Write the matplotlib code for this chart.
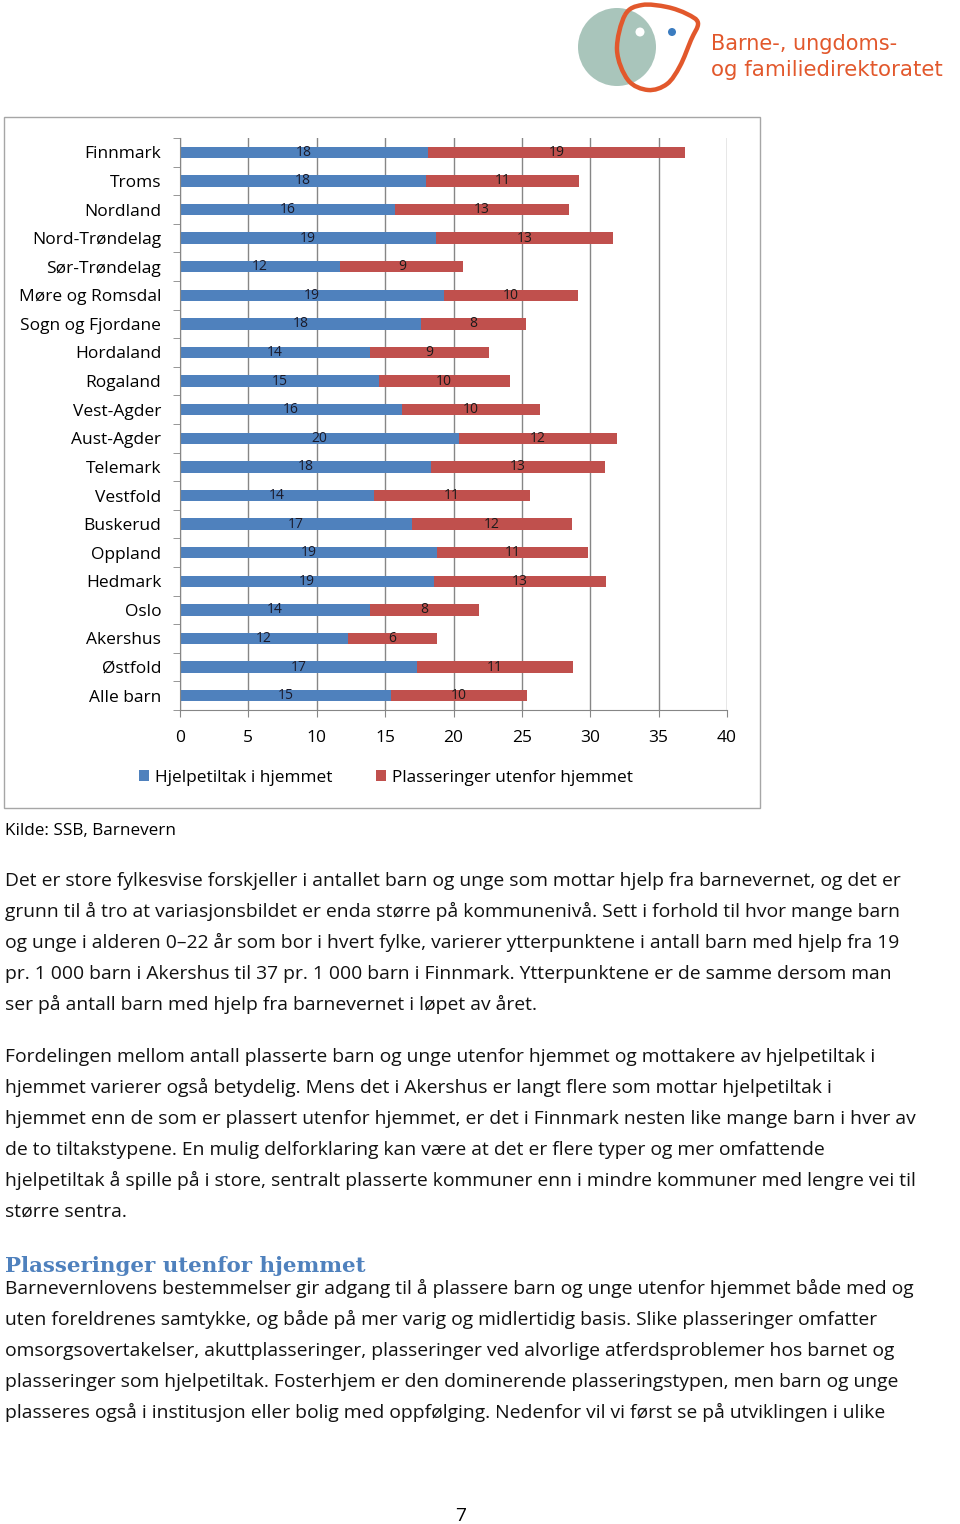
import matplotlib
matplotlib.use('Agg')
import matplotlib.pyplot as plt
import numpy as np
from matplotlib.patches import Rectangle, Circle, PathPatch
from matplotlib.path import Path

plt.rcParams['font.family'] = ['Open Sans', 'DejaVu Sans']

# data (per 1 000 children)
fylker = ['Finnmark', 'Troms', 'Nordland', 'Nord-Trøndelag', 'Sør-Trøndelag',
          'Møre og Romsdal', 'Sogn og Fjordane', 'Hordaland', 'Rogaland',
          'Vest-Agder', 'Aust-Agder', 'Telemark', 'Vestfold', 'Buskerud',
          'Oppland', 'Hedmark', 'Oslo', 'Akershus', 'Østfold', 'Alle barn']
hjelpetiltak = [18.13, 17.98, 15.72, 18.71, 11.73, 19.32, 17.6, 13.89, 14.55, 16.2,
                20.39, 18.37, 14.18, 16.93, 18.78, 18.54, 13.89, 12.28, 17.32, 15.45]
plasseringer = [18.81, 11.19, 12.76, 12.96, 9.0, 9.8, 7.7, 8.72, 9.55, 10.12,
                11.55, 12.72, 11.43, 11.75, 11.09, 12.6, 7.94, 6.48, 11.41, 9.92]
serier = ['Hjelpetiltak i hjemmet', 'Plasseringer utenfor hjemmet']
x_ticks = [0, 5, 10, 15, 20, 25, 30, 35, 40]

avsnitt1 = [
    'Det er store fylkesvise forskjeller i antallet barn og unge som mottar hjelp fra barnevernet, og det er',
    'grunn til å tro at variasjonsbildet er enda større på kommunenivå. Sett i forhold til hvor mange barn',
    'og unge i alderen 0–22 år som bor i hvert fylke, varierer ytterpunktene i antall barn med hjelp fra 19',
    'pr. 1 000 barn i Akershus til 37 pr. 1 000 barn i Finnmark. Ytterpunktene er de samme dersom man',
    'ser på antall barn med hjelp fra barnevernet i løpet av året.',
]
avsnitt2 = [
    'Fordelingen mellom antall plasserte barn og unge utenfor hjemmet og mottakere av hjelpetiltak i',
    'hjemmet varierer også betydelig. Mens det i Akershus er langt flere som mottar hjelpetiltak i',
    'hjemmet enn de som er plassert utenfor hjemmet, er det i Finnmark nesten like mange barn i hver av',
    'de to tiltakstypene. En mulig delforklaring kan være at det er flere typer og mer omfattende',
    'hjelpetiltak å spille på i store, sentralt plasserte kommuner enn i mindre kommuner med lengre vei til',
    'større sentra.',
]
overskrift = 'Plasseringer utenfor hjemmet'
avsnitt3 = [
    'Barnevernlovens bestemmelser gir adgang til å plassere barn og unge utenfor hjemmet både med og',
    'uten foreldrenes samtykke, og både på mer varig og midlertidig basis. Slike plasseringer omfatter',
    'omsorgsovertakelser, akuttplasseringer, plasseringer ved alvorlige atferdsproblemer hos barnet og',
    'plasseringer som hjelpetiltak. Fosterhjem er den dominerende plasseringstypen, men barn og unge',
    'plasseres også i institusjon eller bolig med oppfølging. Nedenfor vil vi først se på utviklingen i ulike',
]

BLUE = '#4F81BD'
RED = '#C0504D'
GRID = '#868686'
ORANGE = '#E2582C'
BODY = 13.9

fig = plt.figure(figsize=(9.6, 15.24), dpi=100)

# page layer in pixel coordinates
page = fig.add_axes([0, 0, 1, 1])
page.set_xlim(0, 960)
page.set_ylim(1524, 0)
page.axis('off')

# logo
page.add_patch(Circle((617, 47), 39, color='#A9C5BB', lw=0))
pts = np.array([(625, 15), (617, 50), (628, 80), (648, 90), (667, 84), (680, 66),
                (691, 40), (698, 23), (687, 14), (667, 7), (642, 5)])
n = len(pts)
verts = [pts[0]]
codes = [Path.MOVETO]
for i in range(n):
    p0, p1, p2, p3 = pts[i - 1], pts[i], pts[(i + 1) % n], pts[(i + 2) % n]
    c1 = p1 + (p2 - p0) / 6
    c2 = p2 - (p3 - p1) / 6
    verts += [c1, c2, p2]
    codes += [Path.CURVE4] * 3
page.add_patch(PathPatch(Path(verts, codes), fill=False, edgecolor=ORANGE, lw=3.2))
page.add_patch(Circle((640, 32), 4.5, color='white', lw=0))
page.add_patch(Circle((672, 32), 4, color='#3B7CC0', lw=0))
page.text(711, 50, 'Barne-, ungdoms-', color=ORANGE, fontsize=15,
          family=['DejaVu Sans'], va='baseline')
page.text(711, 76, 'og familiedirektoratet', color=ORANGE, fontsize=15.4,
          family=['DejaVu Sans'], va='baseline')

# chart frame
page.add_patch(Rectangle((4, 117), 756, 691, fill=False, edgecolor='#A6A6A6', lw=1))

ax = fig.add_axes([180 / 960, 1 - 710 / 1524, 547 / 960, 572 / 1524])
ax.set_facecolor('none')
y = np.arange(len(fylker))
b1 = ax.barh(y, hjelpetiltak, height=0.4, color=BLUE, label=serier[0], zorder=2)
b2 = ax.barh(y, plasseringer, left=hjelpetiltak, height=0.4, color=RED,
             label=serier[1], zorder=2)
ax.bar_label(b1, labels=['%.0f' % v for v in hjelpetiltak], label_type='center',
             fontsize=10, color='#1A1A2A')
ax.bar_label(b2, labels=['%.0f' % v for v in plasseringer], label_type='center',
             fontsize=10, color='#1A1A1A')

ax.set_xlim(0, 40)
ax.set_ylim(len(fylker) - 0.5, -0.5)
ax.set_xticks(x_ticks)
ax.set_yticks(y)
ax.set_yticklabels(fylker)
ax.set_yticks(np.arange(-0.5, len(fylker), 1), minor=True)
ax.tick_params(axis='y', which='major', length=0, pad=13.5, labelsize=12.55)
ax.tick_params(axis='y', which='minor', length=5, color=GRID, direction='out')
ax.tick_params(axis='x', length=5, color=GRID, pad=9.5, labelsize=12.55)
ax.xaxis.grid(True, color=GRID, lw=1, zorder=0)
ax.set_axisbelow(True)
for s in ['top', 'right']:
    ax.spines[s].set_visible(False)
for s in ['left', 'bottom']:
    ax.spines[s].set_color(GRID)

fig.legend(handles=[b1, b2], loc='center', bbox_to_anchor=(386 / 960, 1 - 778 / 1524),
           ncol=2, frameon=False, fontsize=12.4, handlelength=0.6, handleheight=0.6,
           handletextpad=0.35, columnspacing=2.5)

page.text(5, 835, 'Kilde: SSB, Barnevern', fontsize=12.3, va='baseline')

for i, line in enumerate(avsnitt1):
    page.text(5, 886 + 31 * i, line, fontsize=BODY, va='baseline', color='#111111')
for i, line in enumerate(avsnitt2):
    page.text(5, 1062 + 31 * i, line, fontsize=BODY, va='baseline', color='#111111')
page.text(5, 1272, overskrift, fontsize=15.4, weight='bold', color=BLUE,
          family=['DejaVu Serif'], va='baseline')
for i, line in enumerate(avsnitt3):
    page.text(5, 1294 + 31 * i, line, fontsize=BODY, va='baseline', color='#111111')

page.text(461, 1521, '7', fontsize=BODY, ha='center', va='baseline')

fig.savefig('out.png', dpi=100)
